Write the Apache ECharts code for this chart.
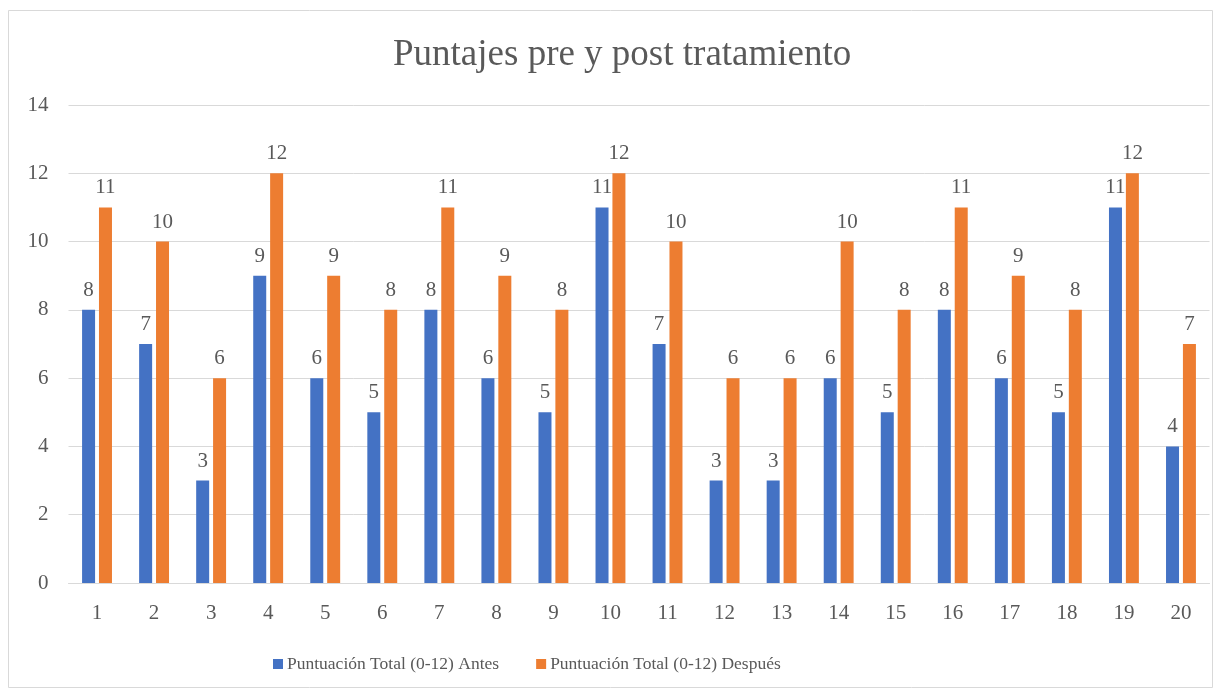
<!DOCTYPE html>
<html>
<head>
<meta charset="utf-8">
<script src="https://cdn.jsdelivr.net/npm/echarts@6/dist/echarts.min.js"></script>
<style>
  html, body { margin: 0; padding: 0; background: #fff; }
  #main { width: 1224px; height: 692px; }
</style>
</head>
<body>
<div id="main"></div>
<script>
// datos del grafico
var categorias = ['1','2','3','4','5','6','7','8','9','10','11','12','13','14','15','16','17','18','19','20'];
var antes = [8,7,3,9,6,5,8,6,5,11,7,3,3,6,5,8,6,5,11,4];
var despues = [11,10,6,12,9,8,11,9,8,12,10,6,6,10,8,11,9,8,12,7];
var nombres = ['Puntuación Total (0-12) Antes', 'Puntuación Total (0-12) Después'];

var fuente = '"Liberation Serif", "Times New Roman", serif';
var grisTexto = '#595959';

var chart = echarts.init(document.getElementById('main'));

//etiqueta encima de cada barra
var etiqueta = {
    show: true,
    position: 'top',
    distance: 9,
    color: grisTexto,
    fontFamily: fuente,
    fontSize: 21
};

var option = {
    animation: false,
    backgroundColor: '#fff',
    title: {
        text: 'Puntajes pre y post tratamiento',
        left: 388,
        top: 32,
        textStyle: {
            color: grisTexto,
            fontFamily: fuente,
            fontSize: 37,
            fontWeight: 'normal'
        }
    },
    graphic: [{
        type: 'rect',
        shape: { x: 8.5, y: 10.5, width: 1204, height: 677 },
        style: { fill: 'none', stroke: '#d9d9d9', lineWidth: 1 },
        silent: true
    }],
    legend: {
        top: 650,
        left: 268,
        itemWidth: 10,
        itemHeight: 10,
        itemGap: 37,
        icon: 'rect',
        textStyle: {
            color: grisTexto,
            fontFamily: fuente,
            fontSize: 17.5,
            padding: [0, 0, 0, -1]
        },
        data: nombres
    },
    grid: {
        left: 68.5,
        right: 14.5,
        top: 105,
        bottom: 109,
        containLabel: false
    },
    xAxis: {
        type: 'category',
        data: categorias,
        axisLine: { lineStyle: { color: '#d9d9d9', width: 1 } },
        axisTick: { show: false },
        axisLabel: {
            color: grisTexto,
            fontFamily: fuente,
            fontSize: 21,
            margin: 20
        }
    },
    yAxis: {
        type: 'value',
        min: 0,
        max: 14,
        interval: 2,
        axisLine: { show: false },
        axisTick: { show: false },
        splitLine: { lineStyle: { color: '#d9d9d9', width: 1 } },
        axisLabel: {
            color: grisTexto,
            fontFamily: fuente,
            fontSize: 21,
            margin: 20
        }
    },
    series: [
        {
            name: nombres[0],
            type: 'bar',
            data: antes,
            barWidth: 13,
            barGap: '30%',
            itemStyle: { color: '#4472c4' },
            label: etiqueta
        },
        {
            name: nombres[1],
            type: 'bar',
            data: despues,
            barWidth: 13,
            itemStyle: { color: '#ed7d31' },
            label: etiqueta
        }
    ]
};

chart.setOption(option);
</script>
</body>
</html>
